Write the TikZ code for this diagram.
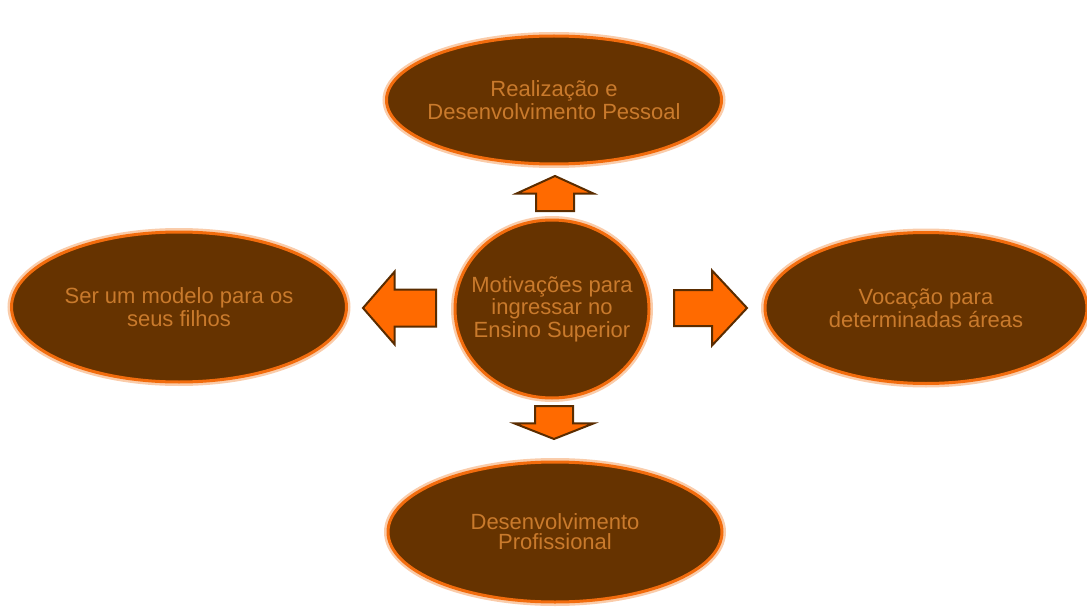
\documentclass[tikz,border=0pt]{standalone}
\usepackage{fontspec}
\setmainfont{Liberation Sans}
\usetikzlibrary{shapes.geometric,shapes.arrows}
\definecolor{marrom}{HTML}{663300}
\definecolor{laranja}{HTML}{F26C0D}
\definecolor{textolar}{HTML}{C97A2C}
\definecolor{setafill}{HTML}{FF6A00}
\definecolor{setaborda}{HTML}{5A2C00}
\begin{document}
\begin{tikzpicture}[x=0.5pt, y=-0.5pt,
  bolha/.style={ellipse, fill=marrom, draw=laranja, line width=1.5pt,
    inner xsep=-12pt, inner ysep=0pt, text=textolar, align=center,
    font=\fontsize{11}{10}\selectfont,
    preaction={draw=laranja!35, line width=4pt}},
  seta/.style={single arrow, fill=setafill, draw=setaborda, line width=1pt,
    inner xsep=0pt, inner ysep=9pt, single arrow head extend=9.75pt, anchor=tail},
  setav/.style={seta, inner xsep=9pt, inner ysep=0pt}]
\useasboundingbox (0,0) rectangle (1087,615);

% Centre
\node[bolha, minimum width=97pt, minimum height=89pt] (motiv) at (552,309) {Motivações para\\ingressar no\\Ensino Superior};

% Motivations around
\node[bolha, minimum width=167.5pt, minimum height=64pt] (realiz) at (554,100) {Realização e\\Desenvolvimento Pessoal};
\node[bolha, minimum width=167.5pt, minimum height=75pt] (modelo) at (179,307) {Ser um modelo para os\\seus filhos};
\node[bolha, minimum width=161pt, minimum height=75.5pt] (vocacao) at (926,308) {Vocação para\\determinadas áreas};
\node[bolha, minimum width=167pt, minimum height=70pt] (prof) at (555,532) {Desenvolvimento\\Profissional};

% Block arrows
\node[setav, shape border rotate=90, minimum height=17.5pt, single arrow tip angle=131] (a1) at (555,212) {};
\node[setav, shape border rotate=270, minimum height=16.5pt, single arrow tip angle=137, single arrow head extend=10.25pt] (a2) at (554,405) {};
\node[seta, shape border rotate=180, minimum height=36.5pt, single arrow tip angle=98, inner ysep=8.75pt, single arrow head extend=9pt] (a3) at (437,308) {};
\node[seta, minimum height=36.5pt, single arrow tip angle=94, inner ysep=8.5pt] (a4) at (673,308) {};
\end{tikzpicture}
\end{document}
